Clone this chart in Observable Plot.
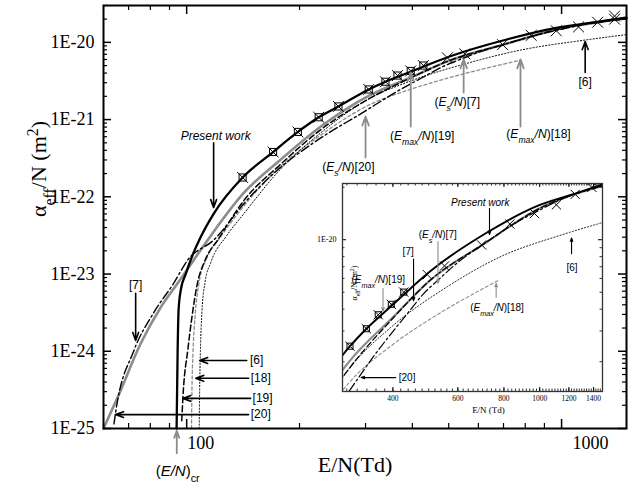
<!DOCTYPE html>
<html><head><meta charset="utf-8">
<script src="https://cdn.jsdelivr.net/npm/d3@7"></script>
<script src="https://cdn.jsdelivr.net/npm/@observablehq/plot@0.6"></script>
<style>
html,body{margin:0;padding:0;background:#fff;}
#wrap{position:relative;width:638px;height:490px;overflow:hidden;background:#fff;}
#main{position:absolute;left:0;top:0;}
#inset{position:absolute;left:300px;top:175px;}
</style></head><body>
<div id="wrap"><div id="main"></div><div id="inset"></div></div>
<script>
// ---------- data (E/N in Td, log10 of alpha_eff/N in m^2) ----------
const presentE = [94, 94.3, 94.6, 95.2, 96.5, 99.4, 104.4, 109, 118, 141, 170, 198, 225, 254, 306, 339, 396, 505, 718, 975, 1271, 1490];
const presentL = [-25, -24.5, -24, -23.45, -23.2, -23.0, -22.72, -22.52, -22.22, -21.75, -21.42, -21.16, -20.97, -20.83, -20.61, -20.51, -20.38, -20.18, -19.96, -19.81, -19.73, -19.68];
const ref7E = [60, 65.4, 75.4, 85.3, 94.6, 104.4, 113.8, 142, 178, 228, 304, 402, 500, 710, 1000, 1490];
const ref7L = [-25, -24.6, -23.9, -23.43, -23.12, -22.82, -22.56, -21.95, -21.52, -21.09, -20.70, -20.44, -20.24, -20.02, -19.82, -19.69];
const ref19E = [97, 98, 100.6, 103, 106.5, 112, 121, 142, 178, 228, 304, 400, 500, 710, 1000, 1490];
const ref19L = [-24.9, -24.5, -24.0, -23.6, -23.15, -22.82, -22.56, -22.05, -21.58, -21.13, -20.74, -20.45, -20.24, -20.02, -19.82, -19.69];
const ref20E = [64, 64.6, 72.2, 81.7, 92.3, 100.6, 118, 145, 175, 218, 297, 357, 439, 484, 531, 600, 710, 850, 1000, 1200, 1490];
const ref20L = [-24.94, -24.8, -24.0, -23.5, -23.12, -22.82, -22.56, -22.04, -21.65, -21.3, -20.9, -20.66, -20.42, -20.31, -20.23, -20.13, -20.02, -19.91, -19.83, -19.75, -19.69];
const ref18E = [103, 103.3, 104, 105.5, 108, 113, 124, 142, 175, 228, 304, 400, 500, 600, 778];
const ref18L = [-25, -24.5, -24.0, -23.5, -23.1, -22.8, -22.5, -22.12, -21.64, -21.2, -20.82, -20.6, -20.46, -20.36, -20.23];
const ref6E = [108, 108.3, 108.8, 109.8, 112, 116, 128, 142, 175, 228, 304, 396, 561, 778, 1156, 1490];
const ref6L = [-25, -24.5, -24, -23.5, -23.1, -22.85, -22.5, -22.22, -21.68, -21.17, -20.74, -20.5, -20.27, -20.1, -19.97, -19.9];
const crossE = [141, 170, 198, 225, 254, 306, 339, 365, 396, 428, 496, 552, 696, 830, 968, 1110, 1248, 1385, 1385];
const crossL = [-21.75, -21.42, -21.16, -20.97, -20.83, -20.61, -20.51, -20.43, -20.37, -20.3, -20.2, -20.15, -20.03, -19.91, -19.85, -19.8, -19.74, -19.7, -19.66];
const squareE = [141, 170, 198, 225, 254, 306, 339, 365, 396, 428];
const squareL = [-21.75, -21.42, -21.16, -20.97, -20.83, -20.61, -20.51, -20.43, -20.37, -20.3];

// axis ticks
const xMajor = [100, 1000];
const xMinor = [60, 70, 80, 90, 200, 300, 400, 500, 600, 700, 800, 900];
const yMajorExp = [-25, -24, -23, -22, -21, -20];
const insetXLabels = [400, 600, 800, 1000, 1200, 1400];
const insetYMajor = [1e-20];
const insetYMinor = [2e-21, 3e-21, 4e-21, 5e-21, 6e-21, 7e-21, 8e-21, 9e-21, 2e-20];

// titles
const xTitle = "E/N(Td)";
const yTitle = "α_{eff}/N (m^{2})";
const insetXTitle = "E/N (Td)";
const insetYTitle = "α_{eff}/N (m^{2})";

// annotations, main plot (E, log10 alpha)
const mainLabelText = ["~Present work~", "(~E_{s}/N~)[20]", "(~E_{max}/N~)[19]", "(~E_{s}/N~)[7]", "(~E_{max}/N~)[18]", "[6]", "[7]", "[6]", "[18]", "[19]", "[20]"];
const mainLabelE = [119.5, 270, 425, 527, 868, 1156, 73.1, 153.7, 157.6, 159.4, 157.6];
const mainLabelL = [-21.21, -21.62, -21.22, -20.77, -21.19, -20.52, -23.14, -24.12, -24.35, -24.61, -24.82];
const crLabel = "(~E/N~)_{cr}";
const crLabelE = 94.6, crLabelL = -25.55;
const mainArrowE1 = [118, 300, 396, 548, 777, 1156, 73.1, 144.6, 146.3, 148.1, 146.3, 94.1];
const mainArrowL1 = [-21.30, -21.49, -21.09, -20.65, -21.09, -20.39, -23.25, -24.12, -24.35, -24.61, -24.82, -25.32];
const mainArrowE2 = [118, 300, 396, 548, 777, 1156, 73.1, 108.3, 105.7, 97.6, 64.6, 94.1];
const mainArrowL2 = [-22.14, -20.96, -20.39, -20.22, -20.22, -19.99, -23.86, -24.12, -24.35, -24.61, -24.82, -25.03];
const mainArrowGray = [false, true, true, true, true, false, false, false, false, false, false, true];

// annotations, inset
const insetLabelText = ["~Present work~", "(~E_{s}/N~)[7]", "[7]", "(~E_{max}/N~)[19]", "[20]", "(~E_{max}/N~)[18]", "[6]"];
const insetLabelE = [690, 529, 440, 365, 437, 766, 1224];
const insetLabelL = [-19.79, -19.97, -20.07, -20.23, -20.79, -20.39, -20.16];
const insetArrowE1 = [731, 530, 455, 376, 407, 762, 1220];
const insetArrowL1 = [-19.82, -20.01, -20.11, -20.28, -20.79, -20.33, -20.08];
const insetArrowE2 = [731, 530, 455, 376, 328, 762, 1220];
const insetArrowL2 = [-19.97, -20.25, -20.35, -20.41, -20.79, -20.25, -19.99];
const insetArrowGray = [false, true, false, true, false, true, false];

// ---------- helpers ----------
const GRAY = "#8c8c8c";
const serif = "'Liberation Serif','Times New Roman',Times,serif";
const sans = "'Liberation Sans',Arial,Helvetica,sans-serif";
const pts = (E, L) => E.map((e, i) => ({x: e, y: 10 ** L[i]}));
const yMajor = yMajorExp.map(e => 10 ** e);
const yMinor = yMajorExp.flatMap(e => [2,3,4,5,6,7,8,9].map(k => k * 10 ** e)).filter(v => v <= 3e-20);
const insetXMinor = d3.range(300, 1481, 20);
const fmtE = d => "1E" + Math.round(Math.log10(d));

function curves(sc, clip) {
  const o = {x: "x", y: "y", curve: "monotone-x", clip};
  return [
    Plot.line(pts(ref7E, ref7L), {...o, stroke: GRAY, strokeWidth: 2.6 * sc}),
    Plot.line(pts(ref18E, ref18L), {...o, stroke: GRAY, strokeWidth: 1.3 * sc, strokeDasharray: "3,2.5"}),
    Plot.line(pts(ref6E, ref6L), {...o, stroke: "black", strokeWidth: 1 * sc, strokeDasharray: "1.2,2"}),
    Plot.line(pts(ref20E, ref20L), {...o, stroke: "black", strokeWidth: 1.4 * sc, strokeDasharray: "9,3,2,3"}),
    Plot.line(pts(ref19E, ref19L), {...o, stroke: "black", strokeWidth: 1.5 * sc, strokeDasharray: "6,3"}),
    Plot.line(pts(presentE, presentL), {...o, stroke: "black", strokeWidth: 2.3 * sc}),
    Plot.dot(pts(squareE, squareL), {x: "x", y: "y", symbol: "square", r: 4 * sc, stroke: "black", strokeWidth: 1, fill: "none", clip}),
    Plot.dot(pts(crossE, crossL), {x: "x", y: "y", symbol: "times", r: 5 * sc, stroke: "black", strokeWidth: 1, clip})
  ];
}
function tickMarks(xs, ys, lenX, lenY, iw, ih, sw) {
  return [
    Plot.tickX(xs, {x: d => d, stroke: "black", strokeWidth: sw, insetTop: ih - lenX}),
    Plot.tickX(xs, {x: d => d, stroke: "black", strokeWidth: sw, insetBottom: ih - lenX}),
    Plot.tickY(ys, {y: d => d, stroke: "black", strokeWidth: sw, insetRight: iw - lenY}),
    Plot.tickY(ys, {y: d => d, stroke: "black", strokeWidth: sw, insetLeft: iw - lenY})
  ];
}
function arrows(E1, L1, E2, L2, gray, want, sw, hl) {
  const rows = E1.map((e, i) => ({x1: e, y1: 10 ** L1[i], x2: E2[i], y2: 10 ** L2[i], g: gray[i]})).filter(d => d.g === want);
  return Plot.arrow(rows, {x1: "x1", y1: "y1", x2: "x2", y2: "y2", stroke: want ? GRAY : "black", strokeWidth: sw, headLength: hl, headAngle: 40});
}
function richify(svg) {
  d3.select(svg).selectAll("text").each(function () {
    const s = this.textContent;
    if (!/[~_^]/.test(s)) return;
    const segs = []; let italic = false, shift = null, buf = "";
    const push = () => { if (buf) segs.push({t: buf, italic, shift}); buf = ""; };
    for (let i = 0; i < s.length; i++) {
      const c = s[i];
      if (c === "~") { push(); italic = !italic; }
      else if ((c === "_" || c === "^") && s[i + 1] === "{") { push(); shift = c; i++; }
      else if (c === "}" && shift) { push(); shift = null; }
      else buf += c;
    }
    push();
    this.textContent = "";
    for (const seg of segs) {
      const ts = d3.select(this).append("tspan").text(seg.t);
      if (seg.italic) ts.attr("font-style", "italic");
      if (seg.shift) ts.attr("baseline-shift", seg.shift === "_" ? "sub" : "super").attr("font-size", "72%");
    }
  });
}

// ---------- main chart ----------
const W = 638, H = 490, ML = 103, MR = 12, MT = 5, MB = 62;
const IW = W - ML - MR, IH = H - MT - MB;
const mainLabels = mainLabelText.map((t, i) => ({t, x: mainLabelE[i], y: 10 ** mainLabelL[i]}));
const main = Plot.plot({
  width: W, height: H, marginLeft: ML, marginRight: MR, marginTop: MT, marginBottom: MB,
  style: {background: "white", fontFamily: sans, overflow: "visible"},
  x: {type: "log", domain: [60, 1490], axis: null},
  y: {type: "log", domain: [1e-25, 3e-20], axis: null},
  marks: [
    ...curves(1, false),
    ...tickMarks(xMajor, yMajor, 9, 8, IW, IH, 1.5),
    ...tickMarks(xMinor, yMinor, 5, 4, IW, IH, 1.2),
    Plot.axisY(yMajor, {anchor: "left", tickSize: 0, tickPadding: 9, tickFormat: fmtE, fontSize: 18, fontFamily: serif, label: null}),
    Plot.text(xMajor.slice(0, 1), {x: d => d, frameAnchor: "bottom", dy: 20, dx: 14, text: d => String(d), fontSize: 18, fontFamily: serif}),
    Plot.text(xMajor.slice(1), {x: d => d, frameAnchor: "bottom", dy: 20, dx: 29, text: d => String(d), fontSize: 18, fontFamily: serif}),
    Plot.frame({stroke: "black", strokeWidth: 2}),
    arrows(mainArrowE1, mainArrowL1, mainArrowE2, mainArrowL2, mainArrowGray, false, 1.6, 8),
    arrows(mainArrowE1, mainArrowL1, mainArrowE2, mainArrowL2, mainArrowGray, true, 1.8, 8),
    Plot.text(mainLabels, {x: "x", y: "y", text: "t", fontSize: 12, fontFamily: sans, fill: "black"}),
    Plot.text([crLabel], {x: () => crLabelE, y: () => 10 ** crLabelL, text: d => d, fontSize: 15, fontFamily: sans}),
    Plot.text([yTitle], {frameAnchor: "left", dx: -65, rotate: -90, text: d => d, fontSize: 22, fontFamily: serif}),
    Plot.text([xTitle], {frameAnchor: "bottom", dy: 43, dx: -10, text: d => d, fontSize: 22, fontFamily: serif})
  ]
});
richify(main);
document.getElementById("main").append(main);

// ---------- inset ----------
const iW = 320, iH = 250, iML = 42, iMR = 18, iMT = 8, iMB = 34;
const iIW = iW - iML - iMR, iIH = iH - iMT - iMB;
const insetLabels = insetLabelText.map((t, i) => ({t, x: insetLabelE[i], y: 10 ** insetLabelL[i]}));
const inset = Plot.plot({
  width: iW, height: iH, marginLeft: iML, marginRight: iMR, marginTop: iMT, marginBottom: iMB,
  style: {background: "transparent", fontFamily: sans, overflow: "visible"},
  x: {type: "log", domain: [292, 1480], axis: null},
  y: {type: "log", domain: [1.35e-21, 2.1e-20], axis: null},
  marks: [
    Plot.frame({fill: "white"}),
    ...curves(0.85, true),
    ...tickMarks(insetXLabels, insetYMajor, 4, 4, iIW, iIH, 1),
    ...tickMarks(insetXMinor, insetYMinor, 2.5, 2.5, iIW, iIH, 0.8),
    Plot.axisY(insetYMajor, {anchor: "left", tickSize: 0, tickPadding: 6, tickFormat: fmtE, fontSize: 8, fontFamily: serif, label: null}),
    Plot.text(insetXLabels, {x: d => d, frameAnchor: "bottom", dy: 9, text: d => String(d), fontSize: 7.5, fontFamily: serif}),
    Plot.frame({stroke: "#333", strokeWidth: 1.3}),
    arrows(insetArrowE1, insetArrowL1, insetArrowE2, insetArrowL2, insetArrowGray, false, 1.1, 5),
    arrows(insetArrowE1, insetArrowL1, insetArrowE2, insetArrowL2, insetArrowGray, true, 1.1, 5),
    Plot.text(insetLabels, {x: "x", y: "y", text: "t", fontSize: 10, fontFamily: sans, fill: "black"}),
    Plot.text([insetYTitle], {frameAnchor: "left", dx: 12, dy: 13, rotate: -90, text: d => d, fontSize: 8, fontFamily: serif}),
    Plot.text([insetXTitle], {frameAnchor: "bottom", dx: 16, dy: 21, text: d => d, fontSize: 9, fontFamily: serif})
  ]
});
richify(inset);
document.getElementById("inset").append(inset);
</script>
</body></html>
